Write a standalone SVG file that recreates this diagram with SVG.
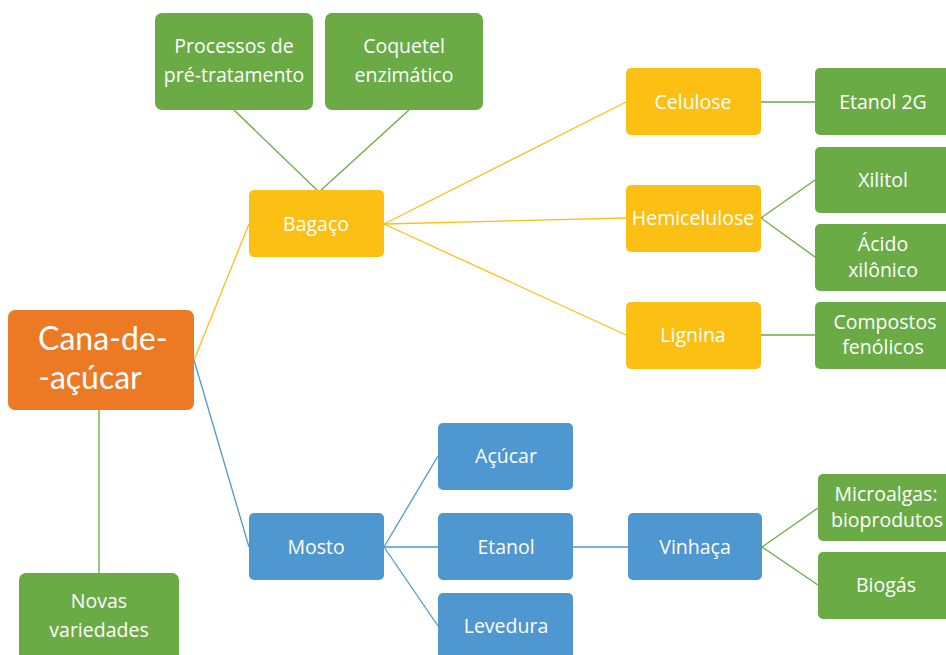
<svg xmlns="http://www.w3.org/2000/svg" width="946" height="655" viewBox="0 0 946 655">
<style>
.box{stroke:none}
.g{fill:#6AAB46}
.y{fill:#FCBF14}
.b{fill:#4F97D1}
.o{fill:#EC7A25}
text{font-family:"Open Sans","Noto Sans","Liberation Sans",sans-serif;font-size:19.5px;fill:#fff;text-anchor:middle}
.big{font-family:Lato,"Open Sans",sans-serif;font-size:32px;text-anchor:start}
.lg{stroke:#6AAB46;stroke-width:1.3;fill:none}
.ly{stroke:#FCBF14;stroke-width:1.3;fill:none}
.lb{stroke:#4F97D1;stroke-width:1.3;fill:none}
</style>
<g id="connectors">
<line class="lg" x1="234" y1="110" x2="319" y2="192"/>
<line class="lg" x1="409" y1="110" x2="319" y2="192"/>
<line class="ly" x1="194" y1="360" x2="249" y2="224"/>
<line class="lb" x1="194" y1="360" x2="249" y2="547"/>
<line class="lg" x1="99" y1="410" x2="99" y2="573"/>
<line class="ly" x1="384" y1="224" x2="626" y2="102"/>
<line class="ly" x1="384" y1="224" x2="626" y2="218"/>
<line class="ly" x1="384" y1="224" x2="626" y2="335"/>
<line class="lg" x1="761" y1="102" x2="815" y2="102"/>
<line class="lg" x1="761" y1="218" x2="815" y2="180"/>
<line class="lg" x1="761" y1="218" x2="815" y2="257"/>
<line class="lg" x1="761" y1="335" x2="815" y2="335"/>
<line class="lb" x1="384" y1="547" x2="438" y2="456"/>
<line class="lb" x1="384" y1="547" x2="438" y2="547"/>
<line class="lb" x1="384" y1="547" x2="438" y2="626"/>
<line class="lb" x1="573" y1="547" x2="628" y2="547"/>
<line class="lg" x1="762" y1="547" x2="818" y2="508"/>
<line class="lg" x1="762" y1="547" x2="818" y2="585"/>
</g>
<g id="processos"><rect class="box g" x="155" y="13" width="158" height="97" rx="7"/><text x="234" y="53">Processos de</text><text x="234" y="82">pré-tratamento</text></g>
<g id="coquetel"><rect class="box g" x="325" y="13" width="158" height="97" rx="7"/><text x="404" y="53">Coquetel</text><text x="404" y="82">enzimático</text></g>
<g id="bagaco"><rect class="box y" x="249" y="190" width="135" height="67" rx="5"/><text x="316" y="231">Bagaço</text></g>
<g id="cana"><rect class="box o" x="8" y="310" width="186" height="100" rx="7"/><text class="big" x="38" y="350">Cana-de-</text><text class="big" x="38" y="389">-açúcar</text></g>
<g id="novas"><rect class="box g" x="19" y="573" width="160" height="90" rx="7"/><text x="99" y="608">Novas</text><text x="99" y="637">variedades</text></g>
<g id="mosto"><rect class="box b" x="249" y="513" width="135" height="67" rx="5"/><text x="316" y="554">Mosto</text></g>
<g id="celulose"><rect class="box y" x="626" y="68" width="135" height="67" rx="5"/><text x="693" y="109">Celulose</text></g>
<g id="hemicelulose"><rect class="box y" x="626" y="185" width="135" height="67" rx="5"/><text x="693" y="225">Hemicelulose</text></g>
<g id="lignina"><rect class="box y" x="626" y="302" width="135" height="67" rx="5"/><text x="693" y="342">Lignina</text></g>
<g id="etanol2g"><rect class="box g" x="815" y="68" width="140" height="67" rx="5"/><text x="883" y="109">Etanol 2G</text></g>
<g id="xilitol"><rect class="box g" x="815" y="147" width="140" height="66" rx="5"/><text x="883" y="187">Xilitol</text></g>
<g id="acido"><rect class="box g" x="815" y="224" width="140" height="67" rx="5"/><text x="883" y="251">Ácido</text><text x="883" y="277">xilônico</text></g>
<g id="compostos"><rect class="box g" x="815" y="302" width="140" height="67" rx="5"/><text x="885" y="329">Compostos</text><text x="883" y="354">fenólicos</text></g>
<g id="acucar"><rect class="box b" x="438" y="423" width="135" height="67" rx="5"/><text x="506" y="463">Açúcar</text></g>
<g id="etanol"><rect class="box b" x="438" y="513" width="135" height="67" rx="5"/><text x="506" y="554">Etanol</text></g>
<g id="levedura"><rect class="box b" x="438" y="593" width="135" height="70" rx="5"/><text x="506" y="633">Levedura</text></g>
<g id="vinhaca"><rect class="box b" x="628" y="513" width="134" height="67" rx="5"/><text x="695" y="554">Vinhaça</text></g>
<g id="microalgas"><rect class="box g" x="818" y="474" width="140" height="67" rx="5"/><text x="886" y="501">Microalgas:</text><text x="887" y="527">bioprodutos</text></g>
<g id="biogas"><rect class="box g" x="818" y="552" width="140" height="67" rx="5"/><text x="886" y="592">Biogás</text></g>
</svg>
